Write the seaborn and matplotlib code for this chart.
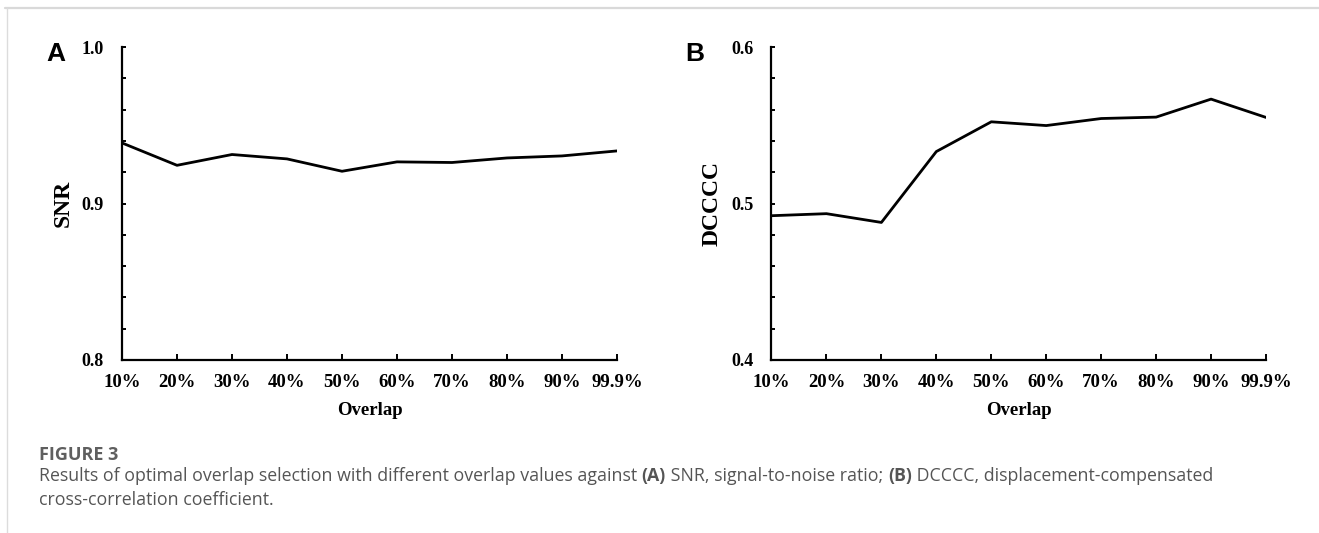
import matplotlib
matplotlib.use("Agg")
import matplotlib.pyplot as plt
from matplotlib.lines import Line2D
from matplotlib.ticker import MultipleLocator, FixedLocator
import seaborn as sns
import pandas as pd
import numpy as np

# ---- data ----
overlap_labels = ["10%", "20%", "30%", "40%", "50%", "60%", "70%", "80%", "90%", "99.9%"]
snr_values = [0.9387, 0.9244, 0.9313, 0.9285, 0.9206, 0.9266, 0.9262, 0.9291, 0.9304, 0.9336]
dcccc_values = [0.4922, 0.4935, 0.4879, 0.5332, 0.5522, 0.5498, 0.5543, 0.5552, 0.5667, 0.5550]

sns.set_theme(style="ticks")
plt.rcParams["font.family"] = ["Liberation Serif", "DejaVu Serif"]

W, H = 1319, 533
fig = plt.figure(figsize=(W / 100, H / 100), dpi=100)
fig.patch.set_facecolor("white")

def ax_rect(left, right, top, bottom):
    return [left / W, 1 - bottom / H, (right - left) / W, (bottom - top) / H]

panels = [
    dict(rect=ax_rect(122, 617, 47, 360), vals=snr_values, ylabel="SNR",
         ylim=(0.8, 1.0), letter="A", letter_x=46),
    dict(rect=ax_rect(771.5, 1266, 47, 360), vals=dcccc_values, ylabel="DCCCC",
         ylim=(0.4, 0.6), letter="B", letter_x=685),
]

for p in panels:
    ax = fig.add_axes(p["rect"])
    df = pd.DataFrame({"pos": np.arange(len(overlap_labels)), "value": p["vals"]})
    sns.lineplot(data=df, x="pos", y="value", ax=ax, color="black", linewidth=2.0)
    ax.set_xlim(0, len(overlap_labels) - 1)
    ax.set_ylim(*p["ylim"])
    ax.xaxis.set_major_locator(FixedLocator(np.arange(len(overlap_labels))))
    ax.set_xticklabels(overlap_labels)
    lo, hi = p["ylim"]
    ax.yaxis.set_major_locator(FixedLocator([lo, (lo + hi) / 2, hi]))
    ax.set_yticklabels([f"{lo:.1f}", f"{(lo + hi) / 2:.1f}", f"{hi:.1f}"])
    ax.yaxis.set_minor_locator(MultipleLocator(0.02))
    for s in ["top", "right"]:
        ax.spines[s].set_visible(False)
    for s in ["left", "bottom"]:
        ax.spines[s].set_color("black")
        ax.spines[s].set_linewidth(1.6)
    ax.tick_params(axis="x", which="major", direction="in", length=4, width=1.4,
                   color="black", pad=10, labelsize=13.5, labelcolor="black")
    ax.tick_params(axis="y", which="both", direction="in", length=3, width=1.4,
                   color="black", pad=13, labelsize=13, labelcolor="black")
    for lab in ax.get_xticklabels() + ax.get_yticklabels():
        lab.set_fontweight("bold")
    ax.set_xlabel("Overlap", fontsize=13.5, fontweight="bold", color="black", labelpad=8)
    ax.set_ylabel(p["ylabel"], fontsize=17, fontweight="bold", color="black", labelpad=6)
    ax.set_facecolor("white")
    ax.grid(False)
    fig.text(p["letter_x"] / W, 1 - 54 / H, p["letter"], ha="left", va="center",
             fontsize=19, fontweight="bold", family=["Liberation Sans", "DejaVu Sans"],
             color="black")

# ---- frame lines ----
fig.add_artist(Line2D([5 / W, 1], [1 - 8 / H, 1 - 8 / H], color="#d9d9d9", linewidth=1.6,
                      transform=fig.transFigure))
fig.add_artist(Line2D([7 / W, 7 / W], [0, 1 - 8 / H], color="#dcdcdc", linewidth=1.0,
                      transform=fig.transFigure))

# ---- caption ----
cap_color = "#555555"
cap_font = ["Open Sans", "DejaVu Sans"]
fig.text(39 / W, 1 - 455 / H, "FIGURE 3", ha="left", va="center", fontsize=13,
         fontweight="bold", family=cap_font, color="#5f5f5f")

fig.canvas.draw()
renderer = fig.canvas.get_renderer()

def write_line(pieces, x_px, y_px, size):
    x = x_px
    for txt, weight in pieces:
        t = fig.text(x / W, 1 - y_px / H, txt, ha="left", va="center", fontsize=size,
                     fontweight=weight, family=cap_font, color=cap_color)
        bb = t.get_window_extent(renderer=renderer)
        x += bb.width

cap_size = 12.8
write_line([("Results of optimal overlap selection with different overlap values against ", "normal"),
            ("(A)", "bold"),
            (" SNR, signal-to-noise ratio; ", "normal"),
            ("(B)", "bold"),
            (" DCCCC, displacement-compensated", "normal")], 39, 476, cap_size)
write_line([("cross-correlation coefficient.", "normal")], 39, 500, cap_size)

fig.savefig("out.png", dpi=100, facecolor="white")
